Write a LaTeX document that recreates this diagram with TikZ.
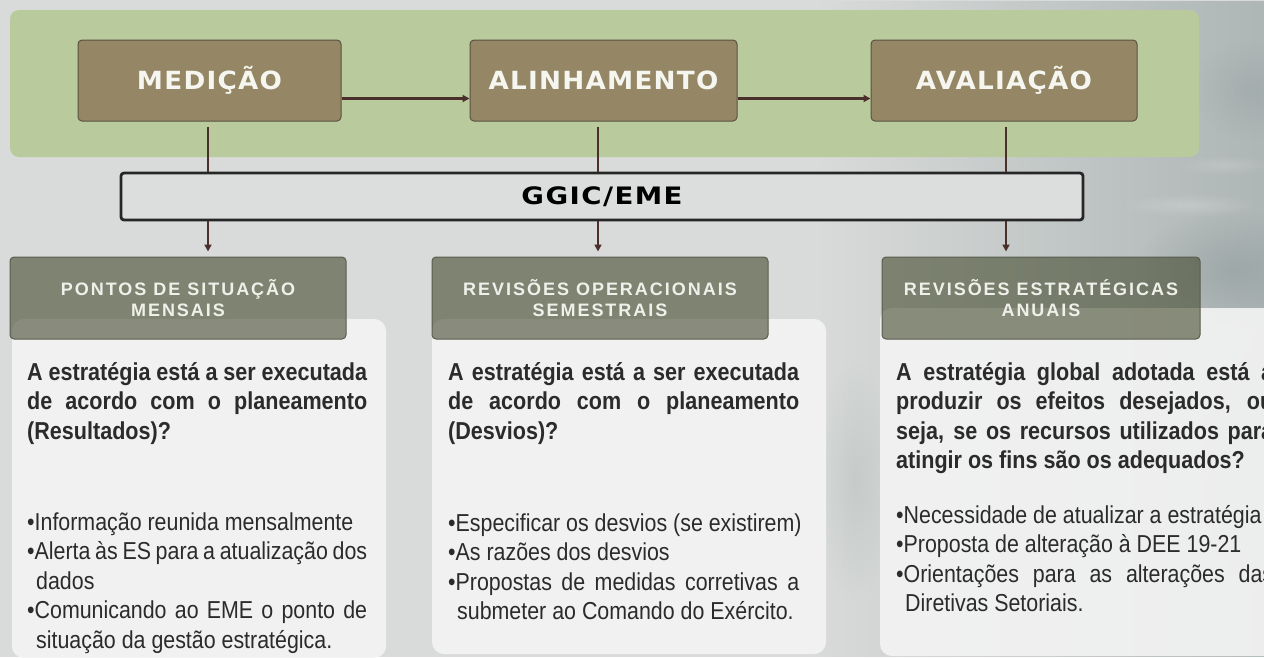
\documentclass[tikz,border=0pt]{standalone}
\usepackage{fontspec}
\usetikzlibrary{arrows.meta,fadings}
\setmainfont{Liberation Sans}
\newfontfamily\bodyfont{Liberation Sans}[FakeStretch=0.873]
\newfontfamily\qfont{Liberation Sans}[FakeStretch=0.88]
\newfontfamily\hdrfont{Liberation Sans}[LetterSpace=11]
\newfontfamily\topfont{DejaVu Sans}[FakeStretch=1.05,LetterSpace=5]
\newfontfamily\barfont{DejaVu Sans}[FakeStretch=1.15,LetterSpace=6]
\definecolor{bgc}{HTML}{D9DBDA}
\definecolor{rockc}{HTML}{AEB6B6}
\definecolor{rockd}{HTML}{8C9898}
\definecolor{bandc}{HTML}{B9CA9D}
\definecolor{topfill}{HTML}{958766}
\definecolor{topdraw}{HTML}{5A5242}
\definecolor{toptext}{HTML}{F6F6F0}
\definecolor{barfill}{HTML}{DCDEDD}
\definecolor{bardraw}{HTML}{262626}
\definecolor{connc}{HTML}{4B2F2B}
\definecolor{hdrfill}{HTML}{444A2E}
\definecolor{hdrdraw}{HTML}{5A5D4E}
\definecolor{hdrtext}{HTML}{F0F0EA}
\definecolor{bodyfill}{HTML}{F4F4F4}
\definecolor{txtc}{HTML}{2B2B2B}
\tikzfading[name=fadeinright, left color=transparent!100, right color=transparent!0]
\tikzfading[name=blobfade, inner color=transparent!0, outer color=transparent!100]
\newcommand{\myJ}[2]{\hbox to #1{#2}}
\newcommand{\myN}[1]{\hbox{#1}}
\newcommand{\myI}[1]{\hbox{\kern9pt #1}}
\begin{document}
\begin{tikzpicture}[x=1pt,y=-1pt,
  topbox/.style={draw=topdraw, line width=1pt, fill=topfill, rounded corners=4pt,
    minimum width=#1, minimum height=81pt, inner sep=0pt, text=toptext,
    font=\topfont\bfseries\fontsize{25}{30}\selectfont},
  hdrbox/.style={draw=hdrdraw, line width=1pt, fill=hdrfill, fill opacity=0.6,
    text opacity=1, rounded corners=4pt, minimum width=#1, minimum height=82pt,
    inner sep=0pt, align=center, text=hdrtext,
    font=\hdrfont\bfseries\fontsize{18}{20.5}\selectfont},
  bodybox/.style={fill=bodyfill, fill opacity=0.9, rounded corners=12pt, inner sep=0pt},
  txt/.style={inner sep=0pt, text=txtc, anchor=base west},
  conn/.style={draw=connc, line width=2.3pt},
  tip/.style={-{Triangle[length=7pt,width=7pt]}}
]
\useasboundingbox (0,0) rectangle (1264,657);
\begin{scope}
\clip (0,0) rectangle (1264,657);
% background
\fill[bgc] (0,0) rectangle (1264,657);
\fill[rockc, path fading=fadeinright] (820,0) rectangle (1264,657);
\fill[rockd, fill opacity=0.5, path fading=blobfade] (1235,270) ellipse (100 and 60);
\fill[rockd, fill opacity=0.3, path fading=blobfade] (1250,90) ellipse (60 and 50);
\fill[white, fill opacity=0.18, path fading=blobfade] (1190,205) ellipse (70 and 12);
\fill[white, fill opacity=0.15, path fading=blobfade] (1225,165) ellipse (50 and 10);
\fill[rockd, fill opacity=0.3, path fading=blobfade] (1250,470) ellipse (80 and 120);
\fill[rockd, fill opacity=0.2, path fading=blobfade] (855,480) ellipse (40 and 120);

% green band
\node[fill=bandc, rounded corners=9pt, minimum width=1189pt, minimum height=147pt, inner sep=0pt] (band) at (604.5,83.5) {};

% body boxes
\node[bodybox, minimum width=374pt, minimum height=339pt] (body1) at (199,488.5) {};
\node[bodybox, minimum width=394pt, minimum height=335pt] (body2) at (629,486.5) {};
\node[bodybox, minimum width=396pt, minimum height=348pt] (body3) at (1078,482) {};

% headers
\node[hdrbox=336pt] (hdr1) at (178,298) {PONTOS DE SITUAÇÃO\\MENSAIS};
\node[hdrbox=336pt] (hdr2) at (600,298) {REVISÕES OPERACIONAIS\\SEMESTRAIS};
\node[hdrbox=318pt] (hdr3) at (1041,298) {REVISÕES ESTRATÉGICAS\\ANUAIS};

% top boxes
\node[topbox=263pt] (med) at (209.5,80.5) {MEDIÇÃO};
\node[topbox=267pt] (ali) at (603.5,80.5) {ALINHAMENTO};
\node[topbox=266pt] (ava) at (1004,80.5) {AVALIAÇÃO};

% GGIC bar
\node[draw=bardraw, line width=2.8pt, fill=barfill, rounded corners=3pt,
  minimum width=962pt, minimum height=47pt, inner sep=0pt,
  font=\barfont\bfseries\fontsize{24}{28}\selectfont, text=black] (ggic) at (602,196.5) {GGIC/EME};

% connectors
\draw[conn, tip] ([yshift=-18pt]med.east) -- ([yshift=-18pt]ali.west);
\draw[conn, tip] ([yshift=-18pt]ali.east) -- ([yshift=-18pt]ava.west);
\draw[conn] ([xshift=-1.5pt,yshift=-5pt]med.south) -- ([xshift=-1.5pt]med.south |- ggic.north);
\draw[conn] ([xshift=-5.5pt,yshift=-5pt]ali.south) -- ([xshift=-5.5pt]ali.south |- ggic.north);
\draw[conn] ([xshift=2pt,yshift=-5pt]ava.south) -- ([xshift=2pt]ava.south |- ggic.north);
\draw[conn, tip, shorten >=5pt] ([xshift=-1.5pt]med.south |- ggic.south) -- ([xshift=-1.5pt]med.south |- hdr1.north);
\draw[conn, tip, shorten >=5pt] ([xshift=-5.5pt]ali.south |- ggic.south) -- ([xshift=-5.5pt]ali.south |- hdr2.north);
\draw[conn, tip, shorten >=5pt] ([xshift=2pt]ava.south |- ggic.south) -- ([xshift=2pt]ava.south |- hdr3.north);

% column 1 text
\node[txt] (q1) at (27,380) {\vtop{\qfont\bfseries\fontsize{24.5}{29.5}\selectfont
  \myJ{340pt}{A estratégia está a ser executada}
  \myJ{340pt}{de acordo com o planeamento}
  \myN{(Resultados)?}}};
\node[txt] (b1) at (27,530) {\vtop{\bodyfont\fontsize{24.5}{29.5}\selectfont
  \myN{•Informação reunida mensalmente}
  \myJ{340pt}{•Alerta às ES para a atualização dos}
  \myI{dados}
  \myJ{340pt}{•Comunicando ao EME o ponto de}
  \myI{situação da gestão estratégica.}}};

% column 2 text
\node[txt] (q2) at (448,380) {\vtop{\qfont\bfseries\fontsize{24.5}{29.5}\selectfont
  \myJ{351pt}{A estratégia está a ser executada}
  \myJ{351pt}{de acordo com o planeamento}
  \myN{(Desvios)?}}};
\node[txt] (b2) at (448,531) {\vtop{\bodyfont\fontsize{24.5}{29.5}\selectfont
  \myN{•Especificar os desvios (se existirem)}
  \myN{•As razões dos desvios}
  \myJ{351pt}{•Propostas de medidas corretivas a}
  \myI{submeter ao Comando do Exército.}}};

% column 3 text
\node[txt] (q3) at (896,380) {\vtop{\qfont\bfseries\fontsize{24.5}{29.5}\selectfont
  \myJ{377pt}{A estratégia global adotada está a}
  \myJ{377pt}{produzir os efeitos desejados, ou}
  \myJ{377pt}{seja, se os recursos utilizados para}
  \myN{atingir os fins são os adequados?}}};
\node[txt] (b3) at (896,523) {\vtop{\bodyfont\fontsize{24.5}{29.5}\selectfont
  \myN{•Necessidade de atualizar a estratégia}
  \myN{•Proposta de alteração à DEE 19-21}
  \myJ{377pt}{•Orientações para as alterações das}
  \myI{Diretivas Setoriais.}}};
\end{scope}
\end{tikzpicture}
\end{document}
